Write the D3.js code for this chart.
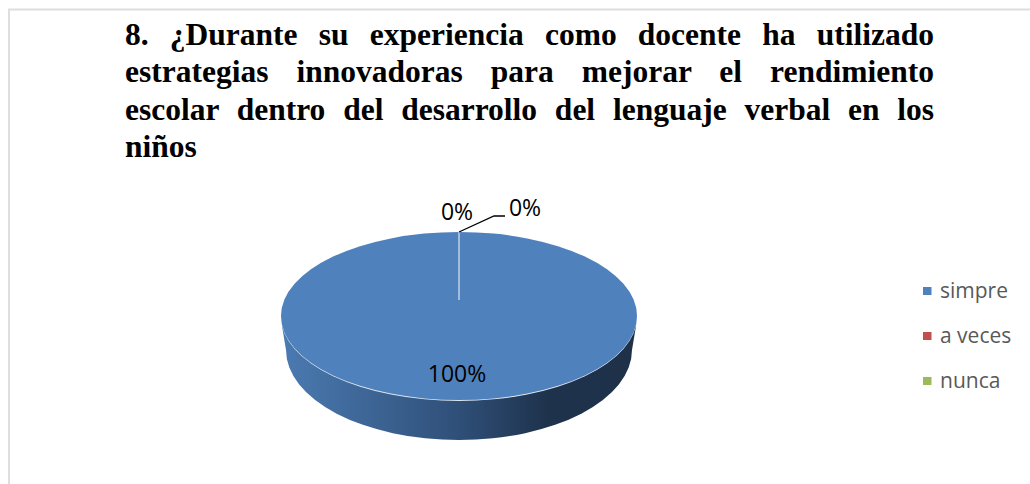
<!DOCTYPE html>
<html>
<head>
<meta charset="utf-8">
<script src="https://cdn.jsdelivr.net/npm/d3@7"></script>
<style>
  body { margin: 0; background: #fff; width: 1030px; height: 484px; overflow: hidden; position: relative; }
  #title {
    position: absolute; left: 125px; top: 16px; width: 809px;
    font: bold 31.5px/37.3px "Liberation Serif", serif;
    text-align: justify; color: #000;
  }
  svg { position: absolute; left: 0; top: 0; }
</style>
</head>
<body>
<svg id="chart" width="1030" height="484"></svg>
<div id="title">8. ¿Durante su experiencia como docente ha utilizado estrategias innovadoras para mejorar el rendimiento escolar dentro del desarrollo del lenguaje verbal en los niños</div>
<script>
// Chart data
const categories = ['simpre', 'a veces', 'nunca'];
const values = [100, 0, 0];
const colors = ['#4f81bd', '#c0504d', '#9bbb59'];

const svg = d3.select('#chart');

// Chart frame, open on the right and bottom edges of the crop
svg.append('path')
  .attr('d', 'M1030,9.5H9V484')
  .attr('fill', 'none')
  .attr('stroke', '#dedede')
  .attr('stroke-width', 2);

// Pie geometry
const cx = 459, cy = 316, rx = 178, ry = 84;
const bottomCy = 350, bottomRx = 173, bottomRy = 90;

const pie = d3.pie().sort(null)(values);
const total = d3.sum(values);
const pct = d3.format('.0%');

const defs = svg.append('defs');
const grad = defs.append('linearGradient')
  .attr('id', 'side')
  .attr('gradientUnits', 'userSpaceOnUse')
  .attr('x1', cx - rx).attr('x2', cx + rx).attr('y1', 0).attr('y2', 0);
grad.append('stop').attr('offset', '0').attr('stop-color', '#4b7bb2');
grad.append('stop').attr('offset', '0.5').attr('stop-color', '#2f4f78');
grad.append('stop').attr('offset', '0.75').attr('stop-color', '#1e324c');
grad.append('stop').attr('offset', '1').attr('stop-color', '#1f3149');

// Side wall of the 3D pie
const wall = d3.path();
wall.moveTo(cx - rx + 1, cy + 10);
wall.lineTo(cx - bottomRx, bottomCy);
svg.append('path')
  .attr('d', wall.toString()
    + `A${bottomRx},${bottomRy} 0 0 0 ${cx + bottomRx},${bottomCy}`
    + `L${cx + rx - 1},${cy + 10}Z`)
  .attr('fill', 'url(#side)');

// Top face: d3.arc slices squashed into an ellipse
const arc = d3.arc().innerRadius(0).outerRadius(rx);
const face = svg.append('g')
  .attr('transform', `translate(${cx},${cy}) scale(1,${ry / rx})`);

// Light rim under the top face
face.append('circle')
  .attr('r', rx)
  .attr('fill', '#dfe8f2')
  .attr('transform', 'translate(0,2)');

face.selectAll('path.slice')
  .data(pie.filter(d => d.value > 0))
  .join('path')
  .attr('class', 'slice')
  .attr('d', arc)
  .attr('fill', d => colors[d.index]);

// Empty slices only show as a pale seam
const seamStart = 0.19;
const seamY = d3.scaleLinear().domain([0, 1]).range([cy, cy - ry]);
svg.append('line')
  .attr('x1', cx).attr('x2', cx)
  .attr('y1', seamY(1)).attr('y2', seamY(seamStart))
  .attr('stroke', '#bfd0e4')
  .attr('stroke-width', 1.5);

// Leader line for the second zero label
svg.append('path')
  .attr('d', d3.line()([[cx, cy - ry], [494, 216], [505, 216]]))
  .attr('fill', 'none')
  .attr('stroke', '#000')
  .attr('stroke-width', 1.3);

// Data labels
const labelFont = '"Open Sans", sans-serif';
const labelPos = [[457, 382], [457, 220], [525, 216]];
svg.selectAll('text.label')
  .data(pie)
  .join('text')
  .attr('class', 'label')
  .attr('x', (d, i) => labelPos[i][0])
  .attr('y', (d, i) => labelPos[i][1])
  .attr('text-anchor', 'middle')
  .attr('font-family', labelFont)
  .attr('font-size', 23)
  .attr('fill', '#000')
  .text(d => pct(d.value / total));

// Legend
const legendY = d3.scalePoint().domain(categories).range([291, 381]);
const legend = svg.selectAll('g.legend')
  .data(categories)
  .join('g')
  .attr('class', 'legend')
  .attr('transform', d => `translate(923,${legendY(d)})`);
legend.append('rect')
  .attr('y', -4).attr('width', 8.5).attr('height', 8)
  .attr('fill', (d, i) => colors[i]);
legend.append('text')
  .attr('x', 17).attr('y', 6.5)
  .attr('font-family', labelFont)
  .attr('font-size', 21)
  .attr('fill', '#595959')
  .text(d => d);
</script>
</body>
</html>
